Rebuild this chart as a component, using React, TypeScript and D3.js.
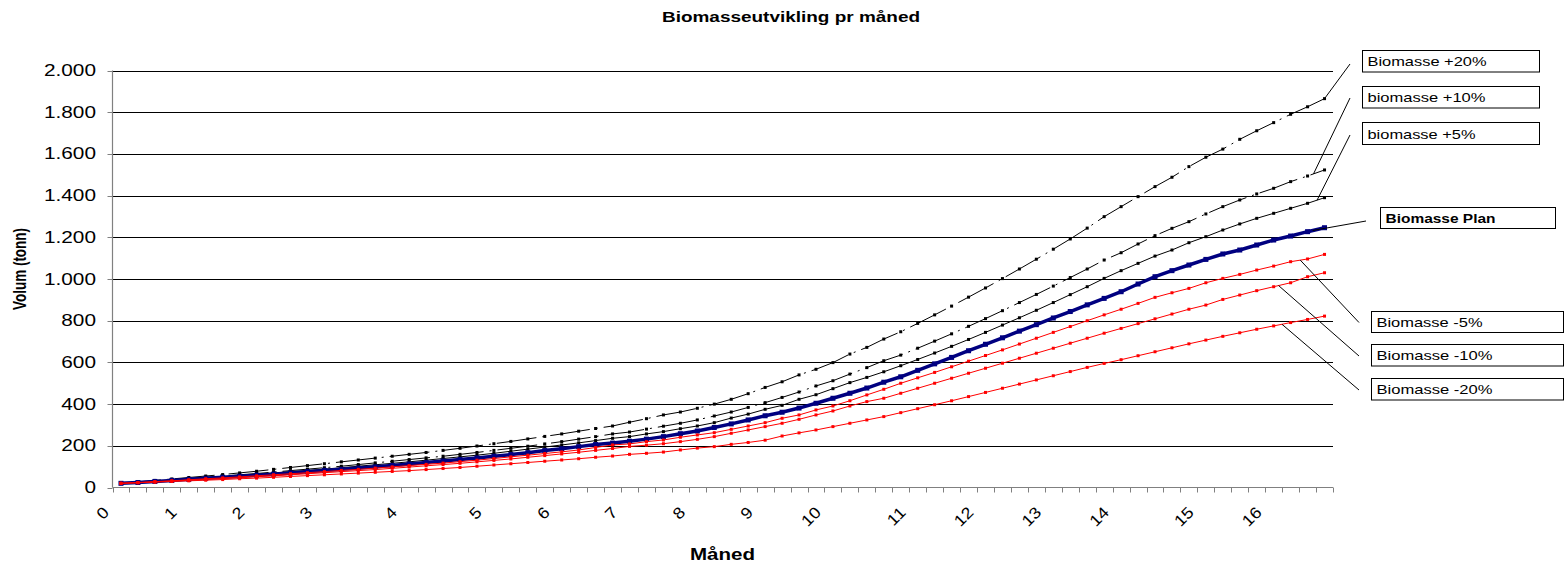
import React from 'react';
import * as d3 from 'd3';

// ---------- DATA ----------
const WEEKS: number[] = Array.from({ length: 72 }, (_, i) => i);
const MONTH_LABELS = ['0', '1', '2', '3', '4', '5', '6', '7', '8', '9', '10', '11', '12', '13', '14', '15', '16'];
const MONTH_LABEL_WEEKS = [0, 4, 8, 12, 17, 22, 26, 30, 34, 38, 42, 47, 51, 55, 59, 64, 68];
const Y_TICKS = [0, 200, 400, 600, 800, 1000, 1200, 1400, 1600, 1800, 2000];

const PLUS20 = [
  20, 27, 34, 41, 48, 55, 62, 70, 78, 87,
  96, 105, 114, 123, 132, 141, 150, 159, 168, 178,
  188, 199, 210, 221, 233, 245, 257, 270, 283, 295,
  313, 330, 348, 362, 380, 400, 423, 450, 480, 507,
  540, 567, 599, 640, 672, 712, 747, 787, 828, 870,
  913, 957, 1002, 1048, 1095, 1143, 1192, 1244, 1299, 1347,
  1395, 1443, 1488, 1539, 1584, 1623, 1670, 1711, 1750, 1790,
  1826, 1865,
];
const PLUS10 = [
  20, 25, 31, 37, 43, 49, 55, 61, 67, 74,
  81, 88, 95, 102, 110, 118, 126, 134, 142, 150,
  159, 168, 178, 188, 198, 209, 220, 232, 244, 257,
  266, 280, 294, 308, 324, 343, 362, 384, 407, 432,
  458, 487, 512, 544, 575, 608, 635, 668, 702, 737,
  773, 810, 848, 887, 926, 966, 1007, 1048, 1091, 1126,
  1168, 1208, 1243, 1275, 1312, 1347, 1379, 1408, 1435, 1467,
  1494, 1523,
];
const PLUS5 = [
  20, 25, 30, 35, 40, 46, 52, 58, 64, 70,
  76, 82, 88, 95, 102, 109, 116, 123, 131, 139,
  147, 155, 164, 174, 184, 194, 204, 214, 225, 236,
  244, 257, 268, 282, 295, 311, 333, 352, 375, 394,
  423, 445, 474, 503, 528, 555, 584, 614, 645, 677,
  710, 744, 779, 814, 850, 887, 925, 963, 1003, 1040,
  1075, 1110, 1139, 1174, 1203, 1235, 1264, 1291, 1315, 1339,
  1363, 1390,
];
const PLAN = [
  20, 24, 29, 34, 39, 44, 49, 54, 59, 64,
  70, 76, 82, 87, 93, 99, 106, 113, 120, 127,
  134, 142, 150, 158, 167, 177, 186, 196, 206, 213,
  222, 232, 244, 258, 271, 288, 305, 324, 344, 361,
  381, 404, 428, 452, 477, 505, 531, 562, 593, 624,
  656, 687, 718, 750, 781, 813, 844, 876, 907, 939,
  976, 1011, 1040, 1067, 1094, 1120, 1139, 1163, 1187, 1206,
  1227, 1246,
];
const MINUS5 = [
  20, 24, 28, 32, 37, 42, 46, 51, 56, 61,
  66, 71, 76, 82, 87, 93, 99, 105, 111, 117,
  124, 131, 139, 147, 155, 163, 171, 180, 192, 204,
  209, 220, 228, 241, 252, 263, 279, 295, 311, 332,
  348, 372, 391, 416, 444, 471, 500, 526, 552, 579,
  606, 633, 660, 688, 716, 744, 772, 800, 828, 855,
  883, 912, 934, 955, 982, 1003, 1022, 1043, 1062, 1083,
  1096, 1118,
];
const MINUS10 = [
  20, 23, 27, 31, 35, 39, 43, 47, 52, 56,
  61, 66, 71, 76, 81, 86, 92, 98, 104, 110,
  116, 123, 130, 137, 145, 153, 161, 169, 178, 187,
  197, 203, 210, 220, 231, 244, 260, 276, 292, 308,
  327, 348, 367, 391, 412, 428, 452, 476, 500, 524,
  548, 572, 596, 620, 644, 668, 692, 716, 740, 763,
  786, 809, 832, 855, 875, 902, 923, 944, 963, 982,
  1011, 1030,
];
const MINUS20 = [
  20, 23, 26, 29, 32, 35, 38, 42, 45, 49,
  53, 57, 61, 65, 69, 73, 77, 81, 86, 91,
  96, 102, 108, 114, 120, 126, 132, 138, 145, 151,
  159, 164, 170, 180, 189, 196, 207, 216, 227, 247,
  262, 276, 292, 308, 324, 340, 359, 378, 397, 416,
  436, 456, 476, 496, 516, 536, 556, 576, 595, 613,
  632, 651, 670, 689, 707, 725, 742, 759, 775, 791,
  806, 822,
];

// ---------- STYLE ----------
const FONT = "Arial, 'Liberation Sans', sans-serif";
const SX = 1.3;

type Series = { name: string; values: number[]; color: string; width: number; dash?: string; marker: number };
const SERIES: Series[] = [
  { name: 'Biomasse +20%', values: PLUS20, color: '#000', width: 1, dash: '40 6 2 6', marker: 3 },
  { name: 'biomasse +10%', values: PLUS10, color: '#000', width: 1, dash: '40 6 2 6', marker: 3 },
  { name: 'biomasse +5%', values: PLUS5, color: '#000', width: 1, marker: 3 },
  { name: 'Biomasse Plan', values: PLAN, color: '#000080', width: 3.5, marker: 5 },
  { name: 'Biomasse -5%', values: MINUS5, color: '#ff0000', width: 1, marker: 3 },
  { name: 'Biomasse -10%', values: MINUS10, color: '#ff0000', width: 1, marker: 3 },
  { name: 'Biomasse -20%', values: MINUS20, color: '#ff0000', width: 1, marker: 3 },
];

// legend boxes: series index, box, text width, leader start (fractional category), leader end
const LEGEND = [
  { s: 0, box: [1362.5, 50.5, 177, 21.5], tw: 119, bold: false, cat: 71, to: [1350, 64] },
  { s: 1, box: [1362.5, 86.5, 177, 21.5], tw: 118, bold: false, cat: 70.35, to: [1350, 98] },
  { s: 2, box: [1362.5, 122.5, 177, 22], tw: 108, bold: false, cat: 70.56, to: [1350, 135] },
  { s: 3, box: [1380.5, 207.5, 175, 21], tw: 110, bold: true, cat: 70.3, to: [1366, 221] },
  { s: 4, box: [1371.5, 311.5, 192, 21], tw: 106, bold: false, cat: 69.57, to: [1359, 322.5] },
  { s: 5, box: [1371.5, 344.5, 192, 21.5], tw: 116, bold: false, cat: 68.29, to: [1359, 356] },
  { s: 6, box: [1371.5, 378.5, 192, 21.5], tw: 116, bold: false, cat: 68.49, to: [1359, 390] },
];

const fmt = (v: number) => d3.format(',')(v).replace(/,/g, '.');

export default function App() {
  const W = 1568;
  const H = 563;
  const x = d3.scaleBand<number>().domain(WEEKS).range([112.5, 1333]).paddingInner(0).paddingOuter(0);
  const bw = x.bandwidth();
  const cx = (i: number) => (x(i) as number) + bw / 2;
  const y = d3.scaleLinear().domain([0, 2000]).range([487.5, 70.5]);
  const line = d3.line<number>().x((_, i) => cx(i)).y((d) => y(d));

  const interp = (vals: number[], c: number) => {
    const a = Math.floor(c);
    const b = Math.min(vals.length - 1, a + 1);
    const f = c - a;
    return vals[a] + (vals[b] - vals[a]) * f;
  };
  const fx = (c: number) => 112.5 + (c + 0.5) * bw;

  const [x0, x1] = x.range();

  return (
    <svg
      width={W}
      height={H}
      style={{ position: 'absolute', left: 0, top: 0, background: '#fff' }}
      fontFamily={FONT}
    >
      <rect x={0} y={0} width={W} height={H} fill="#fff" />
      {/* title */}
      <text x={791} y={21.5} textAnchor="middle" fontSize={14} fontWeight="bold" textLength={258} lengthAdjust="spacingAndGlyphs">
        Biomasseutvikling pr måned
      </text>

      {/* gridlines */}
      {Y_TICKS.filter((t) => t > 0).map((t) => (
        <line key={t} x1={x0} x2={x1} y1={Math.round(y(t)) + 0.5} y2={Math.round(y(t)) + 0.5} stroke="#000" strokeWidth={1} />
      ))}

      {/* y axis */}
      <line x1={x0} x2={x0} y1={y(2000)} y2={y(0)} stroke="#808080" strokeWidth={1.2} />
      {Y_TICKS.map((t) => (
        <g key={t}>
          <line x1={x0 - 5} x2={x0} y1={Math.round(y(t)) + 0.5} y2={Math.round(y(t)) + 0.5} stroke="#808080" />
          <text transform={`translate(96,${y(t) + 5.5}) scale(${SX},1)`} textAnchor="end" fontSize={16} fill="#000">
            {fmt(t)}
          </text>
        </g>
      ))}

      {/* x axis */}
      <line x1={x0} x2={x1} y1={y(0)} y2={y(0)} stroke="#808080" strokeWidth={1.2} />
      {[...WEEKS, WEEKS.length].map((i) => {
        const px = Math.round(x0 + i * bw) + 0.5;
        return <line key={i} x1={px} x2={px} y1={y(0)} y2={y(0) + 5} stroke="#808080" />;
      })}
      {MONTH_LABELS.map((m, k) => (
        <text
          key={m}
          transform={`translate(${cx(MONTH_LABEL_WEEKS[k]) - 11},${y(0) + 26}) rotate(-45) scale(1.12,1)`}
          textAnchor="end"
          fontSize={16}
          fill="#000"
        >
          {m}
        </text>
      ))}

      {/* axis titles */}
      <text x={722.5} y={560} textAnchor="middle" fontSize={16} fontWeight="bold" textLength={65} lengthAdjust="spacingAndGlyphs">
        Måned
      </text>
      <text
        transform={`translate(26,269) scale(${SX},1) rotate(-90)`}
        textAnchor="middle"
        fontSize={13.5}
        fontWeight="bold"
      >
        Volum (tonn)
      </text>

      {/* series */}
      {SERIES.map((s, si) => (
        <g key={si}>
          <path d={line(s.values) || ''} fill="none" stroke={s.color} strokeWidth={s.width} strokeDasharray={s.dash} />
          {s.values.map((v, i) => (
            <rect
              key={i}
              x={cx(i) - s.marker / 2}
              y={y(v) - s.marker / 2}
              width={s.marker}
              height={s.marker}
              fill={s.color}
            />
          ))}
        </g>
      ))}

      {/* legend labels */}
      {LEGEND.map((l) => {
        const s = SERIES[l.s];
        const sx = fx(l.cat);
        const sy = y(interp(s.values, l.cat));
        const [bx, by, bwid, bh] = l.box;
        return (
          <g key={l.s}>
            <line x1={sx} y1={sy} x2={l.to[0]} y2={l.to[1]} stroke="#000" strokeWidth={1} />
            <rect x={bx} y={by} width={bwid} height={bh} fill="#fff" stroke="#000" strokeWidth={1} />
            <text
              x={bx + 5}
              y={by + bh / 2 + 5}
              fontSize={13}
              fontWeight={l.bold ? 'bold' : 'normal'}
              textLength={l.tw}
              lengthAdjust="spacingAndGlyphs"
            >
              {s.name}
            </text>
          </g>
        );
      })}
    </svg>
  );
}
